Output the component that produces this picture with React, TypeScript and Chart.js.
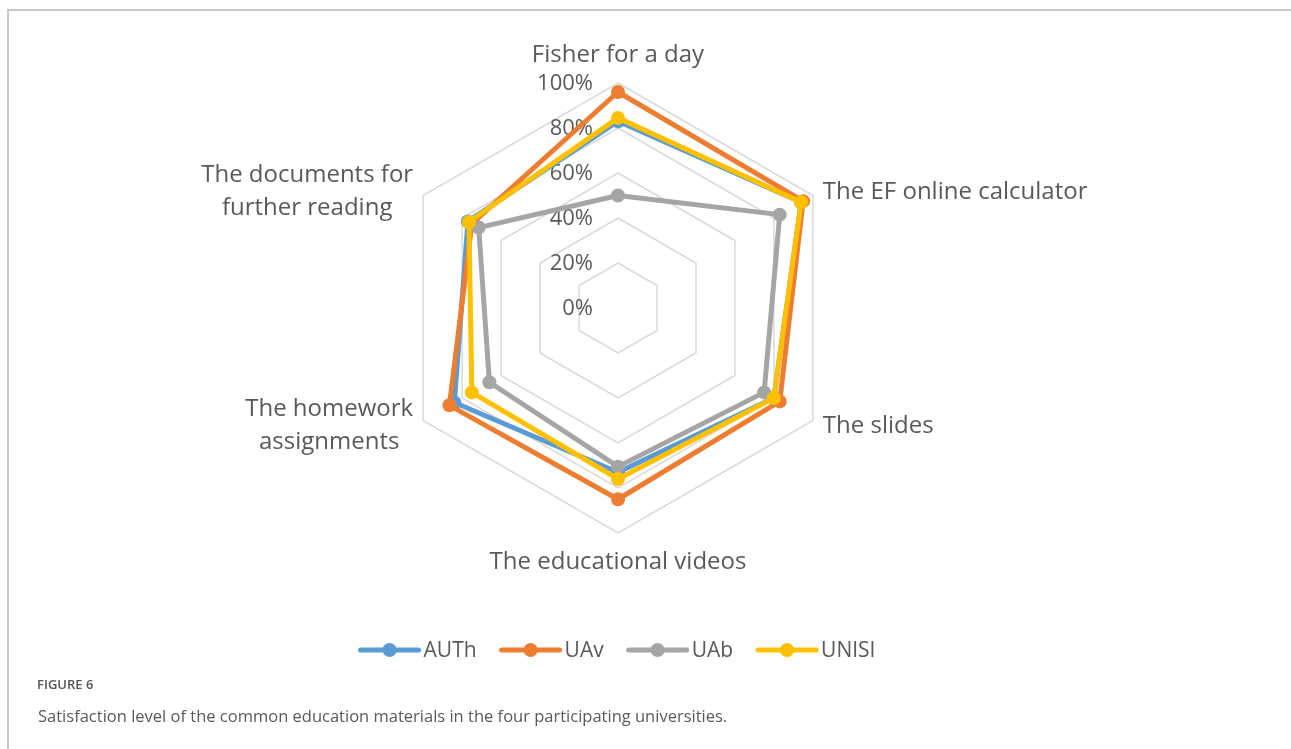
import React, { useEffect, useRef } from "react";
import { Chart, registerables } from "chart.js";

Chart.register(...registerables);

const categoryLines: string[][] = [
  ["Fisher for a day"],
  ["The EF online calculator"],
  ["The slides"],
  ["The educational videos"],
  ["The homework", "assignments"],
  ["The documents for", "further reading"],
];
const categories = categoryLines.map((l) => l.join(" "));

const seriesNames = ["AUTh", "UAv", "UAb", "UNISI"];
const authValues = [0.83, 0.94, 0.8, 0.73, 0.84, 0.77];
const uavValues = [0.96, 0.95, 0.83, 0.85, 0.865, 0.75];
const uabValues = [0.5, 0.83, 0.75, 0.705, 0.66, 0.715];
const unisiValues = [0.845, 0.94, 0.8, 0.76, 0.75, 0.765];
const seriesColors = ["#5B9BD5", "#ED7D31", "#A5A5A5", "#FFC000"];

const tickValues = [0, 0.2, 0.4, 0.6, 0.8, 1];
const tickLabels = ["0%", "20%", "40%", "60%", "80%", "100%"];

const TEXT = "#595959";
const FONT_FAMILY = "'Open Sans', sans-serif";

const customDraw = {
  id: "customDraw",
  beforeDatasetsDraw(chart: any) {
    const scale = chart.scales.r;
    const ctx = chart.ctx;
    ctx.save();
    ctx.font = `22px ${FONT_FAMILY}`;
    ctx.fillStyle = TEXT;
    ctx.textAlign = "right";
    ctx.textBaseline = "middle";
    tickValues.forEach((v, i) => {
      const d = scale.getDistanceFromCenterForValue(v);
      ctx.fillText(tickLabels[i], scale.xCenter - 25, scale.yCenter - d + 1);
    });
    ctx.restore();
  },
  afterDraw(chart: any) {
    const scale = chart.scales.r;
    const ctx = chart.ctx;
    ctx.save();
    // point labels
    ctx.font = `24px ${FONT_FAMILY}`;
    ctx.fillStyle = TEXT;
    ctx.textBaseline = "middle";
    const lineH = 33;
    categoryLines.forEach((lines, i) => {
      const p = scale.getPointPosition(i, scale.drawingArea);
      const dx = p.x - scale.xCenter;
      const dy = p.y - scale.yCenter;
      if (Math.abs(dx) < 1) {
        ctx.textAlign = "center";
        const y = dy < 0 ? p.y - 28 : p.y + 29;
        ctx.fillText(lines[0], p.x, y);
      } else if (dx > 0) {
        ctx.textAlign = "left";
        const y = dy < 0 ? p.y - 3 : p.y + 6;
        lines.forEach((t, k) => ctx.fillText(t, p.x + 10, y + (k - (lines.length - 1) / 2) * lineH));
      } else {
        ctx.textAlign = "center";
        const w = Math.max(...lines.map((t) => ctx.measureText(t).width));
        const cx = p.x - 10 - w / 2;
        const y = dy < 0 ? p.y - 4 : p.y + 5.5;
        lines.forEach((t, k) => ctx.fillText(t, cx, y + (k - (lines.length - 1) / 2) * lineH));
      }
    });

    // legend
    ctx.font = `21px ${FONT_FAMILY}`;
    const lineLen = 58;
    const textGap = 5;
    const itemGap = 25;
    const widths = seriesNames.map((n) => lineLen + textGap + ctx.measureText(n).width);
    const total = widths.reduce((a, b) => a + b, 0) + itemGap * (seriesNames.length - 1);
    let x = scale.xCenter - total / 2;
    const ly = 650;
    seriesNames.forEach((n, i) => {
      ctx.strokeStyle = seriesColors[i];
      ctx.lineWidth = 5;
      ctx.lineCap = "round";
      ctx.beginPath();
      ctx.moveTo(x, ly);
      ctx.lineTo(x + lineLen, ly);
      ctx.stroke();
      ctx.fillStyle = seriesColors[i];
      ctx.beginPath();
      ctx.arc(x + lineLen / 2, ly, 7, 0, Math.PI * 2);
      ctx.fill();
      ctx.fillStyle = TEXT;
      ctx.textAlign = "left";
      ctx.textBaseline = "middle";
      ctx.fillText(n, x + lineLen + textGap, ly + 1);
      x += widths[i] + itemGap;
    });
    ctx.restore();
  },
};

export default function App() {
  const canvasRef = useRef<HTMLCanvasElement | null>(null);

  useEffect(() => {
    if (!canvasRef.current) return;
    const allValues = [authValues, uavValues, uabValues, unisiValues];
    const chart = new Chart(canvasRef.current, {
      type: "radar",
      data: {
        labels: categories,
        datasets: seriesNames.map((name, i) => ({
          label: name,
          data: allValues[i],
          borderColor: seriesColors[i],
          backgroundColor: seriesColors[i],
          pointBackgroundColor: seriesColors[i],
          pointBorderColor: seriesColors[i],
          pointBorderWidth: 0,
          pointRadius: 7,
          borderWidth: 5,
          fill: false,
          tension: 0,
          order: seriesNames.length - 1 - i,
        })),
      },
      options: {
        responsive: false,
        animation: false,
        devicePixelRatio: 1,
        layout: { padding: { left: 0, right: 55, top: 83, bottom: 216 } },
        plugins: {
          legend: { display: false },
          tooltip: { enabled: false },
        },
        elements: { line: { borderJoinStyle: "round" } },
        scales: {
          r: {
            min: 0,
            max: 1,
            ticks: { display: false, stepSize: 0.2 },
            grid: { color: "#D9D9D9", lineWidth: 1.5 },
            angleLines: { display: false },
            pointLabels: { display: false },
          },
        },
      },
      plugins: [customDraw],
    });
    return () => chart.destroy();
  }, []);

  return (
    <div style={{ position: "fixed", left: 0, top: 0, width: 1291, height: 749, background: "#fff", overflow: "hidden" }}>
      <div style={{ position: "absolute", left: 7, top: 9, right: 0, height: 2, background: "#C8C8C8" }} />
      <div style={{ position: "absolute", left: 7, top: 9, bottom: 0, width: 2, background: "#C8C8C8" }} />
      <canvas ref={canvasRef} width={1291} height={749} style={{ position: "absolute", left: 0, top: 0 }} />
      <div
        style={{
          position: "absolute",
          left: 37,
          top: 675,
          fontFamily: "'Open Sans', sans-serif",
          fontSize: 13,
          fontWeight: 600,
          color: "#555",
          lineHeight: "18px",
        }}
      >
        FIGURE 6
      </div>
      <div
        style={{
          position: "absolute",
          left: 38,
          top: 704,
          fontFamily: "'Open Sans', sans-serif",
          fontSize: 16.5,
          color: "#595959",
          lineHeight: "24px",
          whiteSpace: "nowrap",
        }}
      >
        Satisfaction level of the common education materials in the four participating universities.
      </div>
    </div>
  );
}
